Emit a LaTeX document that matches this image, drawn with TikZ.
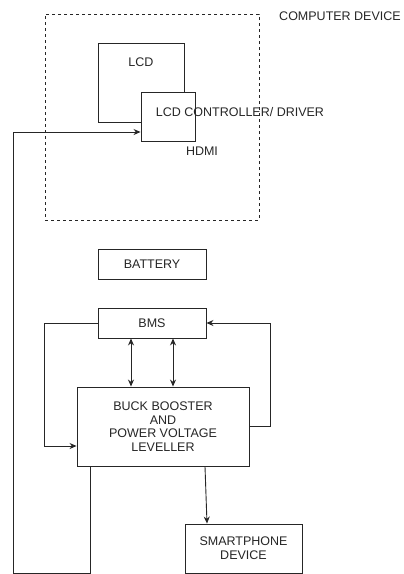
\documentclass[tikz,border=0pt]{standalone}
\usepackage{fontspec}
\setmainfont{Liberation Sans}
\usepackage{tikz}
\usetikzlibrary{arrows.meta, positioning}

\begin{document}
\begin{tikzpicture}[x=1pt, y=-1pt,
  box/.style={rectangle, draw=black!85, line width=0.9pt, fill=white, text=black!85, align=center, inner sep=0pt},
  devbox/.style={rectangle, draw=black!85, line width=0.9pt, dash pattern=on 3pt off 3pt, inner sep=0pt},
  arr/.style={draw=black!85, line width=0.9pt, -{Stealth[length=7pt, width=6pt]}},
  dbl/.style={draw=black!85, line width=0.9pt, {Stealth[length=7pt, width=6pt]}-{Stealth[length=7pt, width=6pt]}},
  lbl/.style={text=black!85, inner sep=0pt},
  font=\fontsize{12.5}{13.7}\selectfont,
]
\useasboundingbox (0,0) rectangle (404,574);

\node[devbox, minimum width=214pt, minimum height=206pt] (computer) at (152,117) {};
\node[lbl] (computerlbl) at (340,16) {COMPUTER DEVICE};

\node[box, minimum width=86pt, minimum height=79pt, label={[lbl, anchor=center, yshift=-20pt]north:LCD}] (lcd) at (141,82.5) {};
\node[box, minimum width=54pt, minimum height=49pt] (ctrl) at (168,116.5) {};
\node[lbl] (ctrllbl) at (240,112) {LCD CONTROLLER/ DRIVER};
\node[lbl] (hdmi) at (202,151) {HDMI};

\node[box, minimum width=108pt, minimum height=30pt] (battery) at (152,264) {BATTERY};
\node[box, minimum width=108pt, minimum height=30pt] (bms) at (152,323) {BMS};
\node[box, minimum width=172pt, minimum height=79pt] (buck) at (163,426.5) {BUCK BOOSTER\\AND\\POWER VOLTAGE\\LEVELLER};
\node[box, minimum width=117pt, minimum height=49pt] (phone) at (243.5,548.5) {SMARTPHONE\\DEVICE};

\coordinate (hdmibend) at (13,573);

% power to the display
\draw[arr] ([xshift=-73pt]buck.south) |- (hdmibend) |- ([yshift=-15.5pt]ctrl.west);

% bms <-> buck booster
\draw[dbl] ([xshift=-21pt]bms.south) -- ([xshift=-21pt]bms.south |- buck.north);
\draw[dbl] ([xshift=21pt]bms.south) -- ([xshift=21pt]bms.south |- buck.north);
\draw[arr] (bms.west) -- ++(-53,0) |- ([yshift=-19.5pt]buck.west);
\draw[arr] (buck.east) -- ++(21,0) |- (bms.east);

\draw[arr] ([xshift=42pt]buck.south) -- ([xshift=-36.5pt]phone.north);
\end{tikzpicture}
\end{document}
